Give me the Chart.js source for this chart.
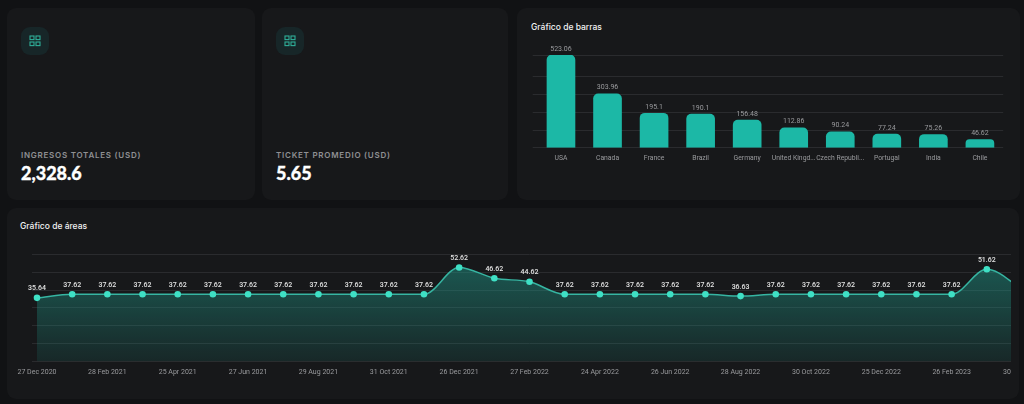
<!DOCTYPE html>
<html lang="es">
<head>
<meta charset="utf-8">
<title>Dashboard</title>
<script src="https://cdn.jsdelivr.net/npm/chart.js@4"></script>
<style>
  body { margin: 0; width: 1024px; height: 404px; background: #111214; overflow: hidden; font-family: Inter, sans-serif; position: relative; }
  .card { position: absolute; background: #17181a; border-radius: 9px; }
  .icon { position: absolute; left: 14px; top: 19px; width: 28px; height: 28px; border-radius: 9px; background: #172628; }
  .icon svg { position: absolute; left: 8px; top: 8px; }
  .kpi-label { position: absolute; left: 14px; top: 142px; font-size: 8px; line-height: 10px; font-weight: 600; letter-spacing: 0.75px; color: #8f9093; white-space: nowrap; }
  .kpi-value { position: absolute; left: 14px; top: 153px; font-family: Lato, sans-serif; font-size: 18px; line-height: 24px; font-weight: 900; color: #fff; -webkit-text-stroke: 0.3px #fff; }
  .title { position: absolute; font-size: 8.5px; line-height: 12px; font-weight: 500; color: #f2f2f2; }
  canvas { position: absolute; }
  #areaClip { position: absolute; left: 0; top: 240px; width: 1011px; height: 145px; overflow: hidden; }
</style>
</head>
<body>
<div class="card" style="left:7px;top:8px;width:248px;height:192px">
  <div class="icon"><svg width="12" height="12" fill="none" stroke="#2fae98" stroke-width="1.1"><rect x="1" y="1" width="4" height="3.6"/><rect x="7" y="1" width="4" height="3.6"/><rect x="1" y="7" width="4" height="3.6"/><rect x="7" y="7" width="4" height="3.6"/></svg></div>
  <div class="kpi-label">INGRESOS TOTALES (USD)</div>
  <div class="kpi-value">2,328.6</div>
</div>
<div class="card" style="left:262px;top:8px;width:246px;height:192px">
  <div class="icon"><svg width="12" height="12" fill="none" stroke="#2fae98" stroke-width="1.1"><rect x="1" y="1" width="4" height="3.6"/><rect x="7" y="1" width="4" height="3.6"/><rect x="1" y="7" width="4" height="3.6"/><rect x="7" y="7" width="4" height="3.6"/></svg></div>
  <div class="kpi-label">TICKET PROMEDIO (USD)</div>
  <div class="kpi-value">5.65</div>
</div>
<div class="card" style="left:517px;top:8px;width:503px;height:192px">
  <div class="title" style="left:14px;top:13px">Gráfico de barras</div>
</div>
<div class="card" style="left:7px;top:208px;width:1012px;height:191px">
  <div class="title" style="left:13px;top:12px">Gráfico de áreas</div>
</div>
<canvas id="barChart" width="503" height="138" style="left:517px;top:30px"></canvas>
<div id="areaClip"><canvas id="areaChart" width="1060" height="142" style="left:0;top:0"></canvas></div>

<script>
const barCategories = ["USA", "Canada", "France", "Brazil", "Germany", "United Kingd...", "Czech Republi...", "Portugal", "India", "Chile"]
const barValues = [523.06, 303.96, 195.1, 190.1, 156.48, 112.86, 90.24, 77.24, 75.26, 46.62]
const barTicks = [0, 100, 200, 300, 400, 523.06]

// only every other month gets a label on the axis
const areaCategories = [
  "27 Dec 2020", "", "28 Feb 2021", "", "25 Apr 2021", "", "27 Jun 2021", "", "29 Aug 2021", "",
  "31 Oct 2021", "", "26 Dec 2021", "", "27 Feb 2022", "", "24 Apr 2022", "", "26 Jun 2022", "",
  "28 Aug 2022", "", "30 Oct 2022", "", "25 Dec 2022", "", "26 Feb 2023", "", "30 Apr 2023"
]
const areaValues = [
  35.64, 37.62, 37.62, 37.62, 37.62, 37.62, 37.62, 37.62, 37.62, 37.62,
  37.62, 37.62, 52.62, 46.62, 44.62, 37.62, 37.62, 37.62, 37.62, 37.62,
  36.63, 37.62, 37.62, 37.62, 37.62, 37.62, 37.62, 51.62, 40.62
]

const gridColor = "#2a2b2e"

// small value labels above each bar or point
const valueLabels = {
  id: "valueLabels",
  afterDatasetsDraw(chart, args, opts) {
    const ctx = chart.ctx
    const meta = chart.getDatasetMeta(0)
    ctx.save()
    ctx.font = opts.font
    ctx.fillStyle = opts.color
    ctx.textAlign = "center"
    ctx.textBaseline = "alphabetic"
    meta.data.forEach((elm, i) => {
      ctx.fillText(String(chart.data.datasets[0].data[i]), elm.x, elm.y - opts.gap)
    })
    ctx.restore()
  }
}

new Chart(document.getElementById("barChart"), {
  type: "bar",
  data: {
    labels: barCategories,
    datasets: [{
      data: barValues,
      backgroundColor: "#1cb8a6",
      borderRadius: { topLeft: 5, topRight: 5 },
      borderSkipped: "bottom",
      barThickness: 28
    }]
  },
  options: {
    responsive: false,
    animation: false,
    layout: { padding: { left: 15.7, right: 16.8, top: 25, bottom: 0 } },
    plugins: {
      legend: { display: false },
      tooltip: { enabled: false },
      valueLabels: { font: "7px Roboto", color: "#9a9b9e", gap: 4.5 }
    },
    scales: {
      x: {
        grid: { display: false, drawTicks: false },
        border: { display: false },
        ticks: { color: "#9a9b9e", font: { family: "Roboto", size: 6.8 }, padding: 6, autoSkip: false, maxRotation: 0, minRotation: 0 }
      },
      y: {
        min: 0,
        max: 523.06,
        afterBuildTicks: scale => { scale.ticks = barTicks.map(value => ({ value })) },
        grid: { color: gridColor, lineWidth: 1, tickLength: 5 },
        border: { display: false },
        ticks: { display: false }
      }
    }
  },
  plugins: [valueLabels]
})

new Chart(document.getElementById("areaChart"), {
  type: "line",
  data: {
    labels: areaCategories,
    datasets: [{
      data: areaValues,
      borderColor: "#36b5a2",
      borderWidth: 1.5,
      cubicInterpolationMode: "monotone",
      pointRadius: 3.3,
      pointBorderWidth: 0,
      pointBackgroundColor: "#3fe0c5",
      fill: true,
      backgroundColor: ctx => {
        const area = ctx.chart.chartArea
        if (!area) return "transparent"
        const g = ctx.chart.ctx.createLinearGradient(0, area.top, 0, area.bottom)
        g.addColorStop(0, "rgba(32,150,135,0.55)")
        g.addColorStop(1, "rgba(32,150,135,0.13)")
        return g
      }
    }]
  },
  options: {
    responsive: false,
    animation: false,
    layout: { padding: { left: 32, right: 38, top: 14.3, bottom: 0 } },
    plugins: {
      legend: { display: false },
      tooltip: { enabled: false },
      valueLabels: { font: "500 7px Roboto", color: "#e4e4e4", gap: 7.5 }
    },
    scales: {
      x: {
        grid: { display: false, drawTicks: false },
        border: { display: false },
        ticks: { color: "#9a9b9e", font: { family: "Roboto", size: 7 }, padding: 6, autoSkip: false, maxRotation: 0, minRotation: 0 }
      },
      y: {
        min: 0,
        max: 60,
        grid: { color: gridColor, lineWidth: 1, tickLength: 5 },
        border: { display: false },
        ticks: { display: false, stepSize: 10 }
      }
    }
  },
  plugins: [valueLabels]
})
</script>
</body>
</html>
